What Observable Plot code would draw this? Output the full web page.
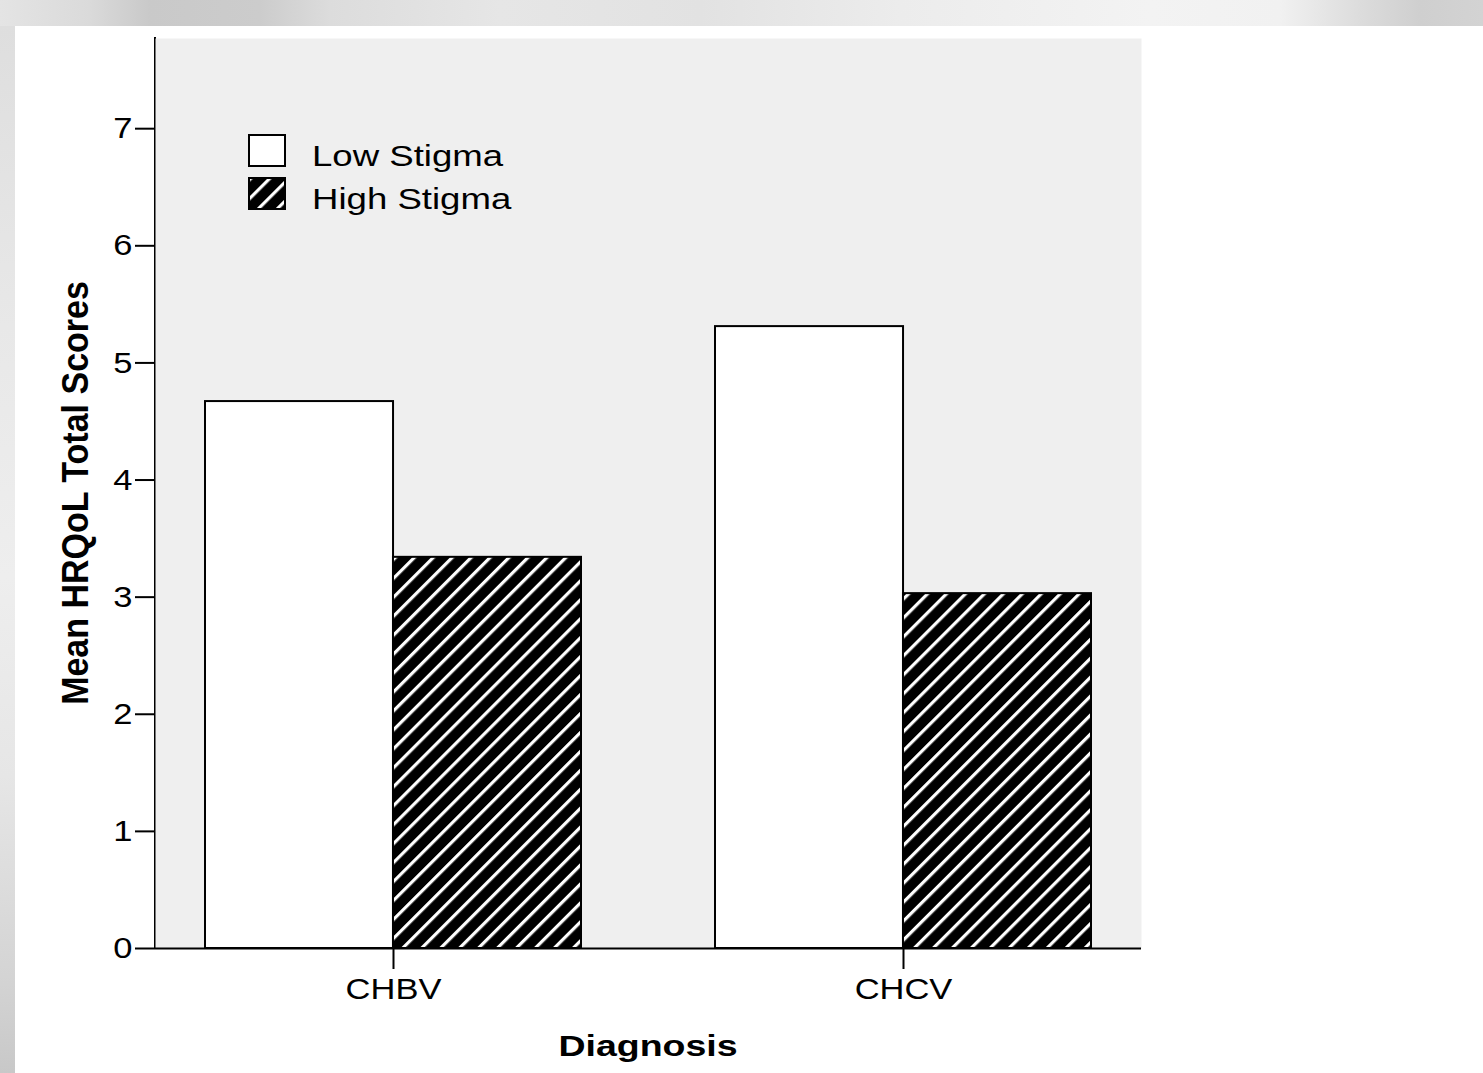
<!DOCTYPE html>
<html>
<head>
<meta charset="utf-8">
<script src="https://cdn.jsdelivr.net/npm/d3@7"></script>
<script src="https://cdn.jsdelivr.net/npm/@observablehq/plot@0.6"></script>
<style>
  html, body { margin: 0; padding: 0; }
  body { width: 1483px; height: 1073px; position: relative; overflow: hidden; background: #ffffff; }
  #topstrip { position: absolute; left: 0; top: 0; width: 1483px; height: 26px;
    background: linear-gradient(to right, #e4e4e4 0px, #dadada 90px, #c9c9c9 150px, #cccccc 260px, #dcdcdc 330px, #e6e6e6 500px, #e2e2e2 700px, #ececec 900px, #f3f3f3 1150px, #f1f1f1 1280px, #dcdcdc 1360px, #cfcfcf 1420px, #d3d3d3 1483px); }
  #leftstrip { position: absolute; left: 0; top: 26px; width: 15px; height: 1047px;
    background: linear-gradient(to bottom, #dedede 0px, #e8e8e8 300px, #eeeeee 550px, #e6e6e6 750px, #d4d4d4 950px, #c8c8c8 1047px); }
  #chart { position: absolute; left: 15px; top: 26px; }
  #defs { position: absolute; left: 0; top: 0; width: 0; height: 0; }
</style>
</head>
<body>
<div id="topstrip"></div>
<div id="leftstrip"></div>
<svg id="defs" width="0" height="0">
  <defs>
    <pattern id="hatch" patternUnits="userSpaceOnUse" width="13.4" height="13.4" patternTransform="rotate(45)">
      <rect width="13.4" height="13.4" fill="#000000"></rect>
      <rect x="0" y="0" width="3.2" height="13.4" fill="#ffffff"></rect>
    </pattern>
  </defs>
</svg>
<div id="chart"></div>
<script>
// ---- data ----
const diagnoses = ["CHBV", "CHCV"];
const lowStigma = [4.67, 5.31];
const highStigma = [3.34, 3.03];
const seriesNames = ["Low Stigma", "High Stigma"];
const seriesFills = ["#ffffff", "url(#hatch)"];
const yTicks = [0, 1, 2, 3, 4, 5, 6, 7];
const xTitle = "Diagnosis";
const yTitle = "Mean HRQoL Total Scores";

const rows = diagnoses.map((d, i) => ({diagnosis: d, low: lowStigma[i], high: highStigma[i]}));

// ---- layout ----
const W = 1468, H = 1047;
const mL = 140, mR = 342, mT = 12, mB = 125;
const padIn = 0.263, padOut = 0.098;
const bw = d3.scaleBand().domain(diagnoses).range([mL, W - mR]).paddingInner(padIn).paddingOuter(padOut).bandwidth();
const FONT = "'Liberation Sans', Arial, sans-serif";

const chart = Plot.plot({
  width: W, height: H,
  marginLeft: mL, marginRight: mR, marginTop: mT, marginBottom: mB,
  style: {fontFamily: FONT, fontSize: "30px", color: "#000000", background: "transparent", overflow: "visible"},
  x: {domain: diagnoses, paddingInner: padIn, paddingOuter: padOut, label: null, tickSize: 21, tickPadding: 8},
  y: {domain: [0, 7.77], ticks: yTicks, tickSize: 20, tickPadding: 3, line: true, label: null, tickFormat: d => String(d)},
  marks: [
    Plot.frame({fill: "#efefef", stroke: "none"}),
    Plot.barY(rows, {x: "diagnosis", y: "low", fill: seriesFills[0], stroke: "#000000", strokeWidth: 2, insetRight: bw / 2}),
    Plot.barY(rows, {x: "diagnosis", y: "high", fill: seriesFills[1], stroke: "#000000", strokeWidth: 2, insetLeft: bw / 2}),
    Plot.ruleY([0], {stroke: "#000000", strokeWidth: 2})
  ]
});
document.getElementById("chart").appendChild(chart);

const svg = d3.select(chart);
// thicker, solid black axis strokes (tick marks and the y-axis line)
svg.selectAll('g[aria-label="x-axis tick"], g[aria-label="y-axis tick"]')
  .attr("stroke", "#000000").attr("stroke-width", 2);
svg.selectAll('line[aria-label="frame"]')
  .attr("stroke", "#000000").attr("stroke-width", 2).attr("transform", null);

// tick labels: explicit size and slight horizontal stretch (as in the reference)
svg.selectAll('g[aria-label$="tick label"] text').each(function() {
  const el = this;
  el.setAttribute("font-size", "30");
  const tr = el.getAttribute("transform") || "";
  let x = parseFloat(el.getAttribute("x"));
  if (!isFinite(x)) x = 0;
  el.setAttribute("transform", `${tr} translate(${x},0) scale(1.15,1) translate(${-x},0)`.trim());
});

// axis titles
const cx = (mL + (W - mR)) / 2;
svg.append("text")
  .attr("transform", `translate(${cx},1030) scale(1.25,1)`)
  .attr("text-anchor", "middle")
  .attr("font-weight", "bold").attr("font-size", 30)
  .attr("font-family", FONT)
  .attr("fill", "#000000")
  .text(xTitle);
svg.append("text")
  .attr("transform", `translate(73,${(mT + (H - mB)) / 2}) rotate(-90) scale(1,1.1)`)
  .attr("text-anchor", "middle")
  .attr("font-weight", "bold").attr("font-size", 34)
  .attr("font-family", FONT)
  .attr("fill", "#000000")
  .text(yTitle);

// legend
const lg = svg.append("g").attr("transform", "translate(234,109)");
seriesNames.forEach((name, i) => {
  const g = lg.append("g").attr("transform", `translate(0,${i * 43})`);
  g.append("rect").attr("x", 0).attr("y", 0).attr("width", 36).attr("height", 31)
    .attr("fill", seriesFills[i]).attr("stroke", "#000000").attr("stroke-width", 2);
  g.append("text")
    .attr("transform", "translate(63,31) scale(1.22,1)")
    .attr("text-anchor", "start")
    .attr("font-size", 30)
    .attr("font-family", FONT)
    .attr("fill", "#000000")
    .text(name);
});
</script>
</body>
</html>
